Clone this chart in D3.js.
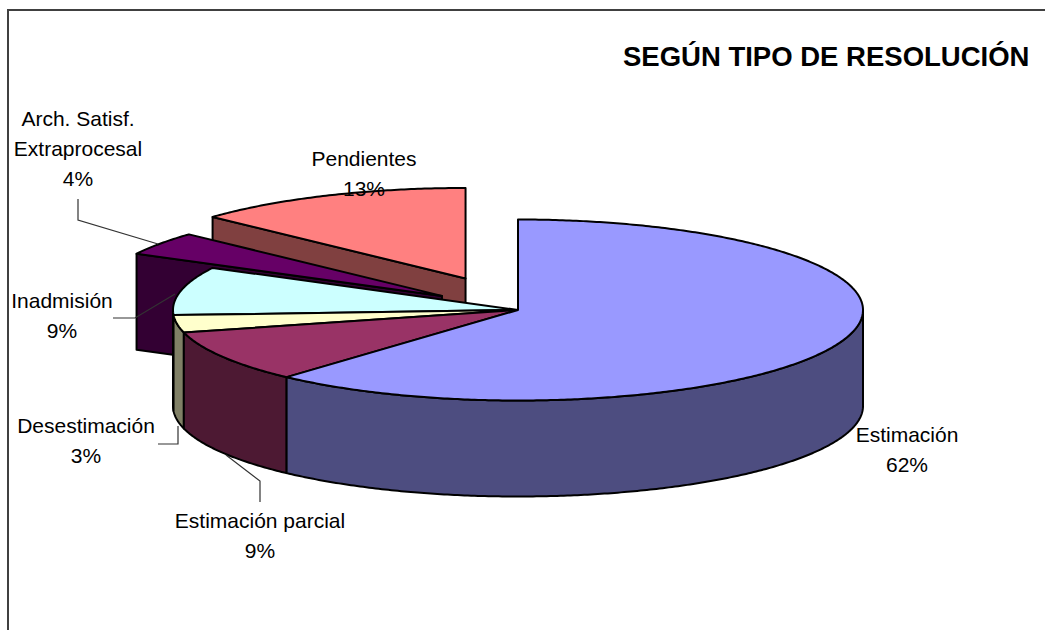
<!DOCTYPE html>
<html><head><meta charset="utf-8">
<script src="https://cdn.jsdelivr.net/npm/d3@7/dist/d3.min.js"></script>
<style>html,body{margin:0;padding:0;background:#fff}svg{display:block}text{font-family:"Liberation Sans",Arial,sans-serif;fill:#000}</style>
</head><body><script>
const categories = ["Estimación","Estimación parcial","Desestimación","Inadmisión","Arch. Satisf. Extraprocesal","Pendientes"];
const values = [61.7,9.3,3.1,8.6,4.2,13.1];
const explode = [0,0,0,0,0.27,0.38];
const topColors = ["#9999FF","#993366","#FFFFCC","#CCFFFF","#660066","#FF8080"];
const wallColors = ["#4D4D80","#4D1933","#808066","#668080","#330033","#804040"];
const title = "SEGÚN TIPO DE RESOLUCIÓN";

const W=1045,H=630,cx=518,cy=310,rx=345,ry=90.5,depth=96;
const svg=d3.select("body").append("svg").attr("width",W).attr("height",H);
svg.append("path").attr("d","M8,630V10H1045").attr("fill","none").attr("stroke","#404040").attr("stroke-width",2);

const arcs=d3.pie().sort(null).value(d=>d)(values).map((a,i)=>({...a,i}));
const line=d3.line();
function geom(a){
  const mid=(a.startAngle+a.endAngle)/2,e=explode[a.i];
  const ox=cx+rx*e*Math.sin(mid),oy=cy-ry*e*Math.cos(mid);
  return {ox,oy,px:t=>ox+rx*Math.sin(t),py:t=>oy-ry*Math.cos(t)};
}
function samples(a0,a1){const n=Math.max(2,Math.ceil(Math.abs(a1-a0)/0.01));return d3.range(n+1).map(k=>a0+(a1-a0)*k/n);}
function topFace(a){const g=geom(a);return line([[g.ox,g.oy],...samples(a.startAngle,a.endAngle).map(t=>[g.px(t),g.py(t)])])+"Z";}
function outerWall(a){
  const g=geom(a),s=Math.max(a.startAngle,Math.PI/2),e=Math.min(a.endAngle,Math.PI*1.5);
  if(e<=s)return null;
  const p=samples(s,e);
  return line([...p.map(t=>[g.px(t),g.py(t)]),...p.slice().reverse().map(t=>[g.px(t),g.py(t)+depth])])+"Z";
}
function cutWall(a){
  const g=geom(a),t=a.startAngle;
  return line([[g.ox,g.oy],[g.px(t),g.py(t)],[g.px(t),g.py(t)+depth],[g.ox,g.oy+depth]])+"Z";
}
const sw=2;
const shape=(d,fill)=>{if(d)svg.append("path").attr("d",d).attr("fill",fill).attr("stroke","#000").attr("stroke-width",sw).attr("stroke-linejoin","round");};

const leaders=[
  "M78,199V220L158,244",
  "M113,318H135L175,294",
  "M158,444H178V426",
  "M260,502V481L226,455"
];
[5,4].forEach(i=>{const a=arcs[i];shape(cutWall(a),wallColors[i]);shape(topFace(a),topColors[i]);});
[3,2,1,0].forEach(i=>{const a=arcs[i];shape(outerWall(a),wallColors[i]);});
[3,2,1,0].forEach(i=>{const a=arcs[i];shape(topFace(a),topColors[i]);});
leaders.forEach(d=>svg.append("path").attr("d",d).attr("fill","none").attr("stroke","#333").attr("stroke-width",1.2));

svg.append("text").attr("x",623).attr("y",66).attr("font-size",27.5).attr("font-weight","bold").text(title);
const fs=21;
const labels=[
  [907,442,["Estimación"],0],
  [260,528,["Estimación parcial"],1],
  [86,433,["Desestimación"],2],
  [62,308,["Inadmisión"],3],
  [78,126,["Arch. Satisf.","Extraprocesal"],4],
  [364,166,["Pendientes"],5]
];
labels.forEach(([x,y,lines,i])=>{
  const t=svg.append("text").attr("text-anchor","middle").attr("font-size",fs);
  [...lines,d3.format(".0f")(values[i])+"%"].forEach((s,k)=>t.append("tspan").attr("x",x).attr("y",y+k*30).text(s));
});
</script></body></html>
